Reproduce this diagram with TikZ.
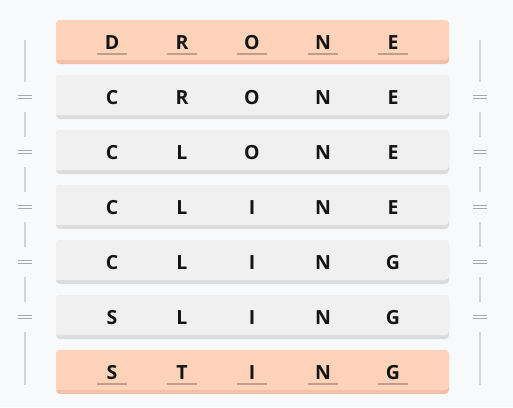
\documentclass[tikz,border=0pt]{standalone}
\usepackage{fontspec}
\newfontfamily\lf{Open Sans}
\begin{document}
\begin{tikzpicture}[x=1pt,y=-1pt,
  bg/.style={fill=bgc},
  rowbody/.style={rounded corners=4pt},
  letter/.style={font=\lf\bfseries\fontsize{19.5}{19.5}\selectfont, text=txt, inner sep=0pt, anchor=base},
  uline/.style={draw=ulc, line width=2.2pt},
  sideline/.style={draw=slc, line width=1.3pt},
  eqsign/.style={draw=eqc, line width=1.3pt}]
\definecolor{bgc}{HTML}{F8F9FB}
\definecolor{orf}{HTML}{FFD3B9}
\definecolor{ors}{HTML}{F2BFA7}
\definecolor{grf}{HTML}{F0F0F0}
\definecolor{grs}{HTML}{DCDCDC}
\definecolor{txt}{HTML}{141414}
\definecolor{ulc}{HTML}{C39C8A}
\definecolor{slc}{HTML}{D4D4D4}
\definecolor{eqc}{HTML}{A8A8A8}
\useasboundingbox[bg] (0,0) rectangle (513,407);
% rows
\foreach \w [count=\i] in {DRONE,CRONE,CLONE,CLINE,CLING,SLING,STING}{
  \pgfmathsetmacro{\top}{20+55*(\i-1)}
  \ifnum\i=1 \def\fc{orf}\def\sc{ors}\else\ifnum\i=7 \def\fc{orf}\def\sc{ors}\else\def\fc{grf}\def\sc{grs}\fi\fi
  \fill[\sc, rowbody] (56,\top) rectangle (449,\top+44);
  \fill[\fc, rounded corners=4pt] (56,\top+40) -- (56,\top) -- (449,\top) -- (449,\top+40) [sharp corners] -- cycle;
}
% letters
\foreach \r/\a/\b/\c/\d/\e in {1/D/R/O/N/E,2/C/R/O/N/E,3/C/L/O/N/E,4/C/L/I/N/E,5/C/L/I/N/G,6/S/L/I/N/G,7/S/T/I/N/G}{
  \pgfmathsetmacro{\bl}{42+55*(\r-1)+7}
  \node[letter] (l\r a) at (112,\bl) {\a};
  \node[letter] (l\r b) at (182,\bl) {\b};
  \node[letter] (l\r c) at (252,\bl) {\c};
  \node[letter] (l\r d) at (323,\bl) {\d};
  \node[letter] (l\r e) at (393,\bl) {\e};
}
% underlines on first and last rows
\foreach \r in {1,7}{
  \pgfmathsetmacro{\uy}{54+55*(\r-1)}
  \foreach \x in {112,182,252,323,393}{
    \draw[uline] (\x-15,\uy) -- (\x+15,\uy);
  }
}
% side lines and equals signs
\foreach \sx in {25,480}{
  \draw[sideline] (\sx,40) -- (\sx,82);
  \foreach \k in {1,...,4}{
    \draw[sideline] (\sx,57+55*\k) -- (\sx,82+55*\k);
  }
  \draw[sideline] (\sx,332) -- (\sx,385);
  \foreach \k in {1,...,5}{
    \draw[eqsign] (\sx-7,42+55*\k-1.8) -- (\sx+7,42+55*\k-1.8);
    \draw[eqsign] (\sx-7,42+55*\k+1.8) -- (\sx+7,42+55*\k+1.8);
  }
}
\end{tikzpicture}
\end{document}
